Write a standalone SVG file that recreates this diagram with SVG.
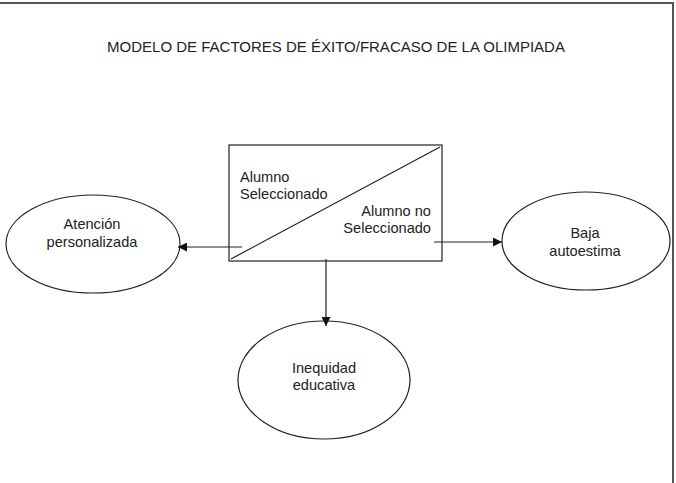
<svg xmlns="http://www.w3.org/2000/svg" width="676" height="483" viewBox="0 0 676 483">
<defs>
<style>
text{font-family:"Liberation Sans",Arial,sans-serif;font-size:14.6px;fill:#222;}
.t{font-size:15px;}
.c{text-anchor:middle;}
.s{fill:none;stroke:#222;stroke-width:1.2;}
.frame{fill:none;stroke:#555;stroke-width:2;}
</style>
<marker id="ah" viewBox="0 0 10 10" refX="10" refY="5" markerWidth="10" markerHeight="9" markerUnits="userSpaceOnUse" orient="auto">
<path d="M0,0 L10,5 L0,10 z" fill="#111"/>
</marker>
</defs>
<rect width="676" height="483" fill="#fff"/>
<rect class="frame" x="-2" y="3" width="675" height="484"/>
<text class="c t" x="336" y="52">MODELO DE FACTORES DE ÉXITO/FRACASO DE LA OLIMPIADA</text>
<g id="box">
<rect class="s" x="229" y="145" width="213" height="116" fill="#fff"/>
<line class="s" x1="231" y1="259" x2="440" y2="147"/>
<text x="240" y="182">Alumno</text>
<text x="240" y="199">Seleccionado</text>
<text x="431" y="216" text-anchor="end">Alumno no</text>
<text x="431" y="233" text-anchor="end">Seleccionado</text>
</g>
<g id="atencion">
<ellipse class="s" cx="93" cy="244" rx="87" ry="49"/>
<text class="c" x="92" y="229">Atención</text>
<text class="c" x="92" y="247">personalizada</text>
</g>
<g id="baja">
<ellipse class="s" cx="586" cy="241" rx="84" ry="49"/>
<text class="c" x="585" y="238">Baja</text>
<text class="c" x="585" y="256">autoestima</text>
</g>
<g id="inequidad">
<ellipse class="s" cx="324" cy="380" rx="86" ry="59"/>
<text class="c" x="324" y="373">Inequidad</text>
<text class="c" x="324" y="390">educativa</text>
</g>
<g id="connectors">
<line class="s" x1="242" y1="247" x2="178" y2="247" marker-end="url(#ah)"/>
<line class="s" x1="434" y1="242" x2="502" y2="242" marker-end="url(#ah)"/>
<line class="s" x1="326" y1="259" x2="326" y2="326" marker-end="url(#ah)"/>
</g>
</svg>
